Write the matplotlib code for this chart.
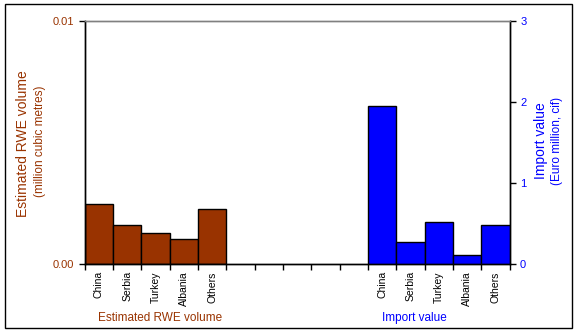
import matplotlib
matplotlib.use("Agg")
import matplotlib.pyplot as plt
from matplotlib.patches import Rectangle
import numpy as np

plt.rcParams['font.family'] = ['Liberation Sans', 'DejaVu Sans']

countries = ["China", "Serbia", "Turkey", "Albania", "Others"]
rwe_volume = [0.00247, 0.0016, 0.00128, 0.00103, 0.00226]
import_value = [1.95, 0.27, 0.52, 0.11, 0.49]
left_ticks = [0.0, 0.01]
left_ticklabels = ["0.00", "0.01"]
right_ticks = [0, 1, 2, 3]
n_gap = 5

brown = "#993300"
blue = "#0000FF"

W, H = 577, 332
fig = plt.figure(figsize=(W / 100, H / 100), dpi=100)
ax = fig.add_axes([84.7 / W, 1 - 264.3 / H, (509.7 - 84.7) / W, (264.3 - 21.3) / H])
ax2 = ax.twinx()

n = len(countries)
pos_left = np.arange(n)
pos_right = np.arange(n) + n + n_gap
total = 2 * n + n_gap

ax.bar(pos_left, rwe_volume, width=1.0, color=brown, edgecolor="black", linewidth=1)
ax2.bar(pos_right, import_value, width=1.0, color=blue, edgecolor="black", linewidth=1)

ax.set_xlim(-0.5, total - 0.5)
ax.set_ylim(0, 0.01)
ax2.set_ylim(0, 3)

ax.set_yticks(left_ticks)
ax.set_yticklabels(left_ticklabels)
ax2.set_yticks(right_ticks)

ax.set_xticks(np.arange(total + 1) - 0.5)
ax.set_xticklabels([])
ax.set_xticks(list(pos_left) + list(pos_right), minor=True)
ax.set_xticklabels(countries + countries, minor=True, rotation=90, fontsize=7.5)
ax.tick_params(axis='x', which='major', length=4, direction='out', width=1)
ax.tick_params(axis='x', which='minor', length=0, pad=5)

ax.tick_params(axis='y', colors=brown, labelsize=8, length=4, width=1, direction='out')
ax.tick_params(axis='y', color='black')
ax2.tick_params(axis='y', colors=blue, labelsize=8, length=4, width=1, direction='out')
ax2.tick_params(axis='y', color='black')

for a in (ax, ax2):
    a.spines['top'].set_color('#808080')
    a.spines['top'].set_linewidth(1)
    for s in ('left', 'right', 'bottom'):
        a.spines[s].set_color('black')
        a.spines[s].set_linewidth(1)

# axis titles
fig.text(23 / W, 1 - 144 / H, "Estimated RWE volume", rotation=90, color=brown,
         fontsize=10, ha='center', va='center')
fig.text(40 / W, 1 - 141 / H, "(million cubic metres)", rotation=90, color=brown,
         fontsize=8.5, ha='center', va='center')
fig.text(541 / W, 1 - 141 / H, "Import value", rotation=90, color=blue,
         fontsize=10, ha='center', va='center')
fig.text(557 / W, 1 - 141 / H, "(Euro million, cif)", rotation=90, color=blue,
         fontsize=8.5, ha='center', va='center')

# group labels
fig.text(160 / W, 1 - 318 / H, "Estimated RWE volume", color=brown, fontsize=8.5,
         ha='center', va='center')
fig.text(414 / W, 1 - 318 / H, "Import value", color=blue, fontsize=8.5,
         ha='center', va='center')

# outer frame
fig.patches.append(Rectangle((5 / W, 1 - 328 / H), (572 - 5) / W, (328 - 4) / H,
                             transform=fig.transFigure, fill=False,
                             edgecolor='black', linewidth=1))

fig.savefig("out.png", dpi=100)
